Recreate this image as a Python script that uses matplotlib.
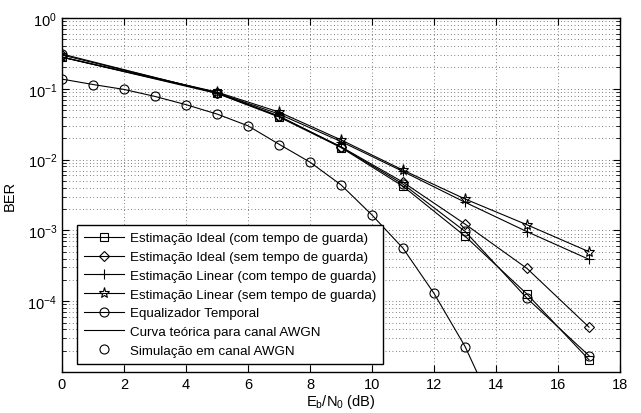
import matplotlib
matplotlib.use("Agg")
import matplotlib.pyplot as plt

plt.rcParams['font.family'] = ['Liberation Sans', 'DejaVu Sans']
plt.rcParams['mathtext.fontset'] = 'custom'
plt.rcParams['mathtext.rm'] = 'Liberation Sans'
plt.rcParams['mathtext.it'] = 'Liberation Sans'

snr = [0, 5, 7, 9, 11, 13, 15, 17]
ideal_com = [0.28, 0.086, 0.040, 0.0148, 4.2e-3, 8.3e-4, 1.26e-4, 1.49e-5]
ideal_sem = [0.30, 0.088, 0.041, 0.0152, 4.8e-3, 1.23e-3, 2.9e-4, 4.3e-5]
linear_com = [0.28, 0.088, 0.044, 0.018, 6.8e-3, 2.5e-3, 9.6e-4, 3.9e-4]
linear_sem = [0.28, 0.090, 0.047, 0.019, 7.1e-3, 2.78e-3, 1.2e-3, 5.0e-4]
equalizador = [0.31, 0.087, 0.041, 0.0150, 4.5e-3, 9.7e-4, 1.1e-4, 1.7e-5]

snr_theory = [0, 1, 2, 3, 4, 5, 6, 7, 8, 9, 10, 11, 12, 13, 14]
ber_theory = [0.137, 0.115, 0.098, 0.078, 0.0597, 0.044, 0.030, 0.0165,
              0.0092, 0.0044, 0.00165, 5.6e-4, 1.29e-4, 2.3e-5, 2.6e-6]
snr_sim = [0, 1, 2, 3, 4, 5, 6, 7, 8, 9, 10, 11, 12, 13]
ber_sim = [0.137, 0.113, 0.100, 0.078, 0.0597, 0.044, 0.030, 0.0163,
           0.0092, 0.0044, 0.00163, 5.6e-4, 1.29e-4, 2.25e-5]

labels = ['Estimação Ideal (com tempo de guarda)',
          'Estimação Ideal (sem tempo de guarda)',
          'Estimação Linear (com tempo de guarda)',
          'Estimação Linear (sem tempo de guarda)',
          'Equalizador Temporal',
          'Curva teórica para canal AWGN',
          'Simulação em canal AWGN']

fig = plt.figure(figsize=(6.41, 4.14), dpi=100)
ax = fig.add_axes([62/641, 1-373/414, 558/641, 354/414])

lw = 0.8
ms = 6.5
kw = dict(color='black', lw=lw, markersize=ms, markerfacecolor='none',
          markeredgecolor='black', markeredgewidth=0.8)
ax.semilogy(snr, ideal_com, marker='s', label=labels[0], **{**kw, 'markersize': 6})
ax.semilogy(snr, ideal_sem, marker='D', label=labels[1], **{**kw, 'markersize': 5.5})
ax.semilogy(snr, linear_com, marker='+', label=labels[2], **{**kw, 'markersize': 7.5})
ax.semilogy(snr, linear_sem, marker='*', label=labels[3], **{**kw, 'markersize': 8})
ax.semilogy(snr, equalizador, marker='o', label=labels[4], **kw)
ax.semilogy(snr_theory, ber_theory, color='black', lw=lw, label=labels[5])
ax.semilogy(snr_sim, ber_sim, ls='none', marker='o', markersize=ms,
            markerfacecolor='none', markeredgecolor='black',
            markeredgewidth=0.8, label=labels[6])

ax.set_xlim(0, 18)
ax.set_ylim(1e-5, 1)
ax.set_xticks(range(0, 19, 2))
ax.set_yticks([1e0, 1e-1, 1e-2, 1e-3, 1e-4])
ax.set_yticklabels([r'$10^{0}$', r'$10^{-1}$', r'$10^{-2}$', r'$10^{-3}$', r'$10^{-4}$'])
gkw = dict(ls=(0, (1, 3.5)), color='#333333', lw=0.55)
ax.grid(True, which='major', **gkw)
ax.grid(True, which='minor', axis='y', **gkw)
ax.tick_params(which='both', direction='in', top=True, right=True, labelsize=10.5)
ax.tick_params(which='major', length=5)
ax.tick_params(which='minor', length=3)
for s in ax.spines.values():
    s.set_linewidth(1.0)

ax.set_xlabel(r'E$_\mathrm{b}$/N$_\mathrm{0}$ (dB)', fontsize=10.5, labelpad=1)
ax.set_ylabel('BER', fontsize=10.5, labelpad=8)

leg = ax.legend(loc='lower left', bbox_to_anchor=(0.027, 0.022), borderaxespad=0,
                fontsize=9.6, frameon=True, fancybox=False, edgecolor='black',
                framealpha=1, handlelength=3.0, handletextpad=0.4,
                labelspacing=0.48, borderpad=0.55)
leg.get_frame().set_linewidth(1.0)

fig.savefig('out.png', dpi=100)
